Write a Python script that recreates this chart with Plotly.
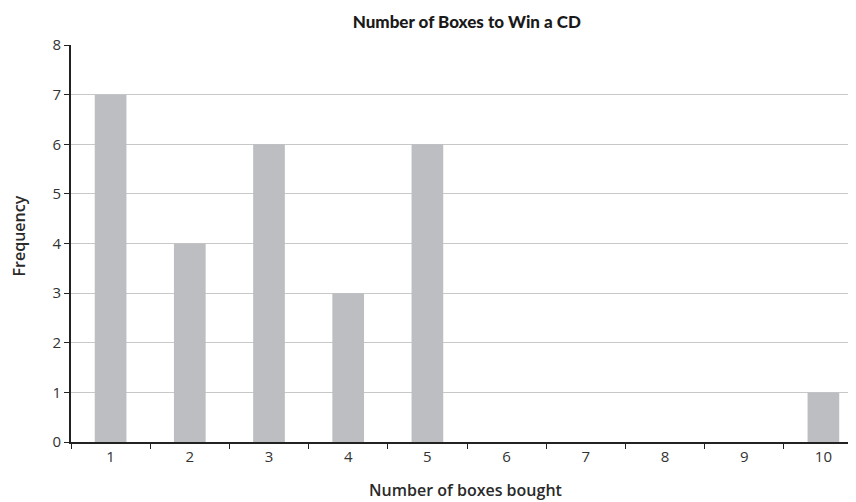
import plotly.graph_objects as go

categories = ["1", "2", "3", "4", "5", "6", "7", "8", "9", "10"]
frequency = [7, 4, 6, 3, 6, 0, 0, 0, 0, 1]
y_ticks = [0, 1, 2, 3, 4, 5, 6, 7, 8]

fig = go.Figure()
fig.add_trace(go.Bar(
    x=categories, y=frequency,
    marker=dict(color="#bdbec2", line=dict(width=0)),
    width=0.4,
))

fig.update_layout(
    width=856, height=502,
    margin=dict(l=63, r=1, t=37, b=68),
    plot_bgcolor="white", paper_bgcolor="white",
    showlegend=False,
    title=dict(
        text="Number of Boxes to Win a CD",
        x=0.536, xanchor="center", y=0.973, yanchor="middle",
        font=dict(family="Lato, Roboto, Arial", size=17, color="#1a1a1a", weight=900),
    ),
    font=dict(family="Open Sans, Lato, sans-serif", size=13, color="#333333"),
    annotations=[
        dict(text="Number of boxes bought", xref="paper", yref="paper",
             x=0.4975, y=-0.121, xanchor="center", yanchor="middle", showarrow=False,
             font=dict(size=16, color="#2a2a2a", weight=600)),
        dict(text="Frequency", xref="paper", yref="paper", textangle=-90,
             x=-0.0663, y=0.519, xanchor="center", yanchor="middle", showarrow=False,
             font=dict(size=16, color="#2a2a2a", weight=600)),
    ],
)

fig.update_xaxes(
    type="category",
    range=[-0.5, 9.5],
    showline=True, linecolor="#222222", linewidth=2,
    ticks="outside", tickson="boundaries", ticklen=5, tickcolor="#222222", tickwidth=1,
    showgrid=False,
    tickfont=dict(size=15, color="#333333"),
)

fig.update_yaxes(
    range=[0, 8],
    tickvals=y_ticks,
    showline=True, linecolor="#222222", linewidth=2,
    ticks="outside", ticklen=5, tickcolor="#222222", tickwidth=1,
    showgrid=True, gridcolor="#c8c8c8", gridwidth=1,
    zeroline=False,
    tickfont=dict(size=15, color="#333333"),
)

fig.write_html("out.html")
